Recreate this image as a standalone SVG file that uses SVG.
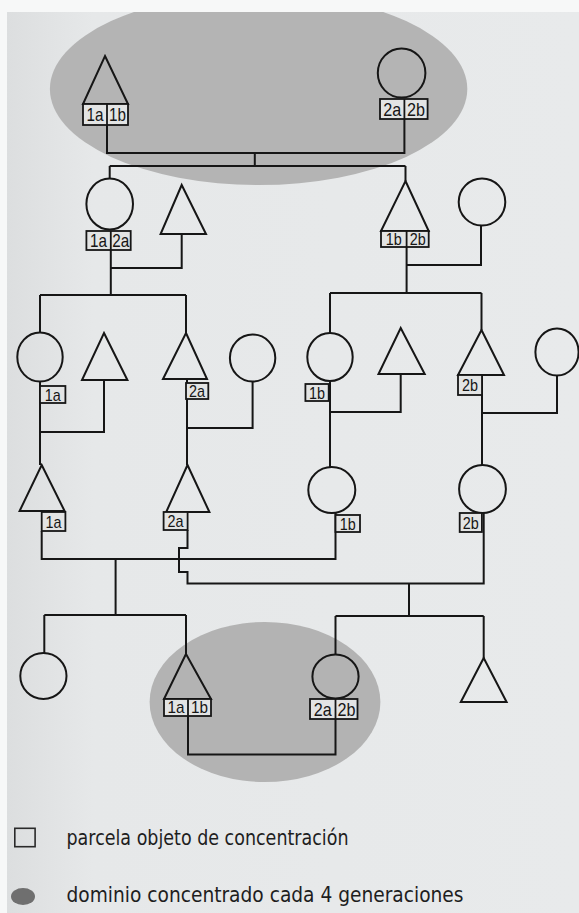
<svg xmlns="http://www.w3.org/2000/svg" width="579" height="913" viewBox="0 0 579 913">
<defs>
<clipPath id="page"><rect x="7" y="12" width="572" height="901"/></clipPath>
<linearGradient id="paper" x1="0" y1="0" x2="1" y2="0">
<stop offset="0" stop-color="#dcdedf"/>
<stop offset="0.15" stop-color="#e6e8e9"/>
<stop offset="1" stop-color="#e8eaeb"/>
</linearGradient>
</defs>
<style>
.sh{fill:none;stroke:#161616;stroke-width:2}
.bx{fill:#e3e4e4;stroke:#161616;stroke-width:1.8}
.dv{stroke:#161616;stroke-width:1.8}
.lb{font-family:"Liberation Sans",Arial,sans-serif;font-size:19px;fill:#161616;text-anchor:middle}
.ls{font-family:"Liberation Sans",Arial,sans-serif;font-size:17px;fill:#161616;text-anchor:middle}
.cn{fill:none;stroke:#161616;stroke-width:2}
.lg{font-family:"DejaVu Sans","Liberation Sans",sans-serif;font-size:21px;fill:#1e1e1e}
</style>
<rect x="0" y="0" width="579" height="913" fill="#f7f8f8"/>
<rect x="7" y="12" width="572" height="901" fill="url(#paper)"/>
<g id="domains" clip-path="url(#page)">
<ellipse cx="258.6" cy="89" rx="208.7" ry="96" fill="#b4b4b4"/>
<ellipse cx="265" cy="702" rx="115.4" ry="80" fill="#b3b3b3"/>
</g>
<g id="connectors">
<path class="cn" d="M107,125 V153 H404.4 V119"/>
<path class="cn" d="M254.8,153 V166"/>
<path class="cn" d="M109.7,166 H405.5"/>
<path class="cn" d="M109.7,166 V178"/>
<path class="cn" d="M405.5,166 V181"/>
<path class="cn" d="M181.7,234 V268 H110.8"/>
<path class="cn" d="M110.8,250 V295"/>
<path class="cn" d="M40,295 H186"/>
<path class="cn" d="M40,295 V332.5"/>
<path class="cn" d="M186,295 V333"/>
<path class="cn" d="M481,225.5 V265 H406.6"/>
<path class="cn" d="M406.6,247 V293"/>
<path class="cn" d="M330,293 H481.5"/>
<path class="cn" d="M330,293 V333"/>
<path class="cn" d="M481.5,293 V330"/>
<path class="cn" d="M40,381.5 V465"/>
<path class="cn" d="M104,380 V432 H40"/>
<path class="cn" d="M187,379 V465"/>
<path class="cn" d="M187,428 H252.6 V381.5"/>
<path class="cn" d="M330,381 V467"/>
<path class="cn" d="M400.7,374 V412 H330"/>
<path class="cn" d="M482,375 V465"/>
<path class="cn" d="M557,375.5 V413 H482"/>
<path class="cn" d="M41.7,531 V559 H335.5 V513"/>
<path class="cn" d="M187.5,530 V548 H179 V572 H187.5 V583.5 H483.7 V513"/>
<path class="cn" d="M115.6,559 V615"/>
<path class="cn" d="M44.3,615 H186"/>
<path class="cn" d="M44.3,615 V653"/>
<path class="cn" d="M186,615 V654"/>
<path class="cn" d="M409,583.5 V616"/>
<path class="cn" d="M335.5,616 H483.7"/>
<path class="cn" d="M335.5,616 V654.5"/>
<path class="cn" d="M483.7,616 V658"/>
<path class="cn" d="M188,716 V754.5 H335.5 V719"/>
</g>
<g id="g1-male">
<path class="sh" d="M105,56 L128,104 L83,104 Z"/>
<rect class="bx" x="83" y="104" width="45" height="21"/>
<line class="dv" x1="107" y1="104" x2="107" y2="125"/>
<text class="lb" x="95" y="121.3" textLength="17" lengthAdjust="spacingAndGlyphs">1a</text>
<text class="lb" x="117.5" y="121.3" textLength="17" lengthAdjust="spacingAndGlyphs">1b</text>
</g>
<g id="g1-female">
<ellipse class="sh" cx="401.6" cy="73" rx="23.8" ry="24.5"/>
<rect class="bx" x="380" y="99" width="47.6" height="20"/>
<line class="dv" x1="404.4" y1="99" x2="404.4" y2="119"/>
<text class="lb" x="392.2" y="115.8" textLength="18" lengthAdjust="spacingAndGlyphs">2a</text>
<text class="lb" x="416" y="115.8" textLength="18" lengthAdjust="spacingAndGlyphs">2b</text>
</g>
<g id="g2-daughter">
<ellipse class="sh" cx="109.7" cy="204" rx="23.3" ry="25.5"/>
<rect class="bx" x="86.4" y="231" width="44.3" height="19"/>
<line class="dv" x1="110.8" y1="231" x2="110.8" y2="250"/>
<text class="lb" x="98.6" y="247.3" textLength="17" lengthAdjust="spacingAndGlyphs">1a</text>
<text class="lb" x="120.7" y="247.3" textLength="17" lengthAdjust="spacingAndGlyphs">2a</text>
</g>
<g id="g2-daughter-husband">
<path class="sh" d="M181.7,185 L206,234 L160.6,234 Z"/>
</g>
<g id="g2-son">
<path class="sh" d="M405.5,181 L428.7,231 L381,231 Z"/>
<rect class="bx" x="381" y="231" width="47.7" height="16"/>
<line class="dv" x1="406.6" y1="231" x2="406.6" y2="247"/>
<text class="ls" x="393.8" y="245.3" textLength="16" lengthAdjust="spacingAndGlyphs">1b</text>
<text class="ls" x="417.7" y="245.3" textLength="16" lengthAdjust="spacingAndGlyphs">2b</text>
</g>
<g id="g2-son-wife">
<ellipse class="sh" cx="482" cy="202" rx="23.3" ry="23.5"/>
</g>
<g id="g3-a">
<ellipse class="sh" cx="40" cy="357" rx="22.7" ry="24.5"/>
<rect class="bx" x="40" y="386" width="25.4" height="17"/>
<text class="ls" x="52.7" y="400.6" textLength="16" lengthAdjust="spacingAndGlyphs">1a</text>
</g>
<g id="g3-a-husband">
<path class="sh" d="M104,333 L127.4,380 L82,380 Z"/>
</g>
<g id="g3-b">
<path class="sh" d="M186,333 L207,379 L163,379 Z"/>
<rect class="bx" x="186" y="383" width="22.3" height="16"/>
<text class="ls" x="197.1" y="397.1" textLength="16" lengthAdjust="spacingAndGlyphs">2a</text>
</g>
<g id="g3-b-wife">
<ellipse class="sh" cx="252.6" cy="358" rx="22.7" ry="23.5"/>
</g>
<g id="g3-c">
<ellipse class="sh" cx="330" cy="357" rx="22.7" ry="24"/>
<rect class="bx" x="305.4" y="384" width="23.3" height="17"/>
<text class="ls" x="317" y="398.6" textLength="16" lengthAdjust="spacingAndGlyphs">1b</text>
</g>
<g id="g3-c-husband">
<path class="sh" d="M400.7,328 L424.7,374 L378.5,374 Z"/>
</g>
<g id="g3-d">
<path class="sh" d="M481.5,330 L504,375 L458,375 Z"/>
<rect class="bx" x="458" y="375" width="24" height="20"/>
<text class="ls" x="470" y="391" textLength="16" lengthAdjust="spacingAndGlyphs">2b</text>
</g>
<g id="g3-d-wife">
<ellipse class="sh" cx="557" cy="352" rx="21.6" ry="23.5"/>
</g>
<g id="g4-a">
<path class="sh" d="M41.7,465 L64.6,511 L19.6,511 Z"/>
<rect class="bx" x="41.7" y="512" width="23.7" height="19"/>
<text class="ls" x="53.5" y="527.6" textLength="16" lengthAdjust="spacingAndGlyphs">1a</text>
</g>
<g id="g4-b">
<path class="sh" d="M187.5,465 L209.4,512 L166.2,512 Z"/>
<rect class="bx" x="163.6" y="512" width="24" height="18"/>
<text class="ls" x="175.6" y="527.1" textLength="16" lengthAdjust="spacingAndGlyphs">2a</text>
</g>
<g id="g4-c">
<ellipse class="sh" cx="331.8" cy="490" rx="23.5" ry="23"/>
<rect class="bx" x="335.5" y="515" width="24.5" height="17"/>
<text class="ls" x="347.8" y="529.6" textLength="16" lengthAdjust="spacingAndGlyphs">1b</text>
</g>
<g id="g4-d">
<ellipse class="sh" cx="482.5" cy="489" rx="23.4" ry="24"/>
<rect class="bx" x="459.7" y="513" width="22.2" height="19"/>
<text class="ls" x="470.8" y="528.6" textLength="16" lengthAdjust="spacingAndGlyphs">2b</text>
</g>
<g id="g5-a">
<ellipse class="sh" cx="43.4" cy="676" rx="23.1" ry="23"/>
</g>
<g id="g5-b">
<path class="sh" d="M186,654 L211,699 L164,699 Z"/>
<rect class="bx" x="164" y="699" width="47" height="17"/>
<line class="dv" x1="188" y1="699" x2="188" y2="716"/>
<text class="ls" x="176" y="713.4" textLength="17" lengthAdjust="spacingAndGlyphs">1a</text>
<text class="ls" x="199.5" y="713.4" textLength="17" lengthAdjust="spacingAndGlyphs">1b</text>
</g>
<g id="g5-c">
<ellipse class="sh" cx="335.5" cy="676.5" rx="23.1" ry="22"/>
<rect class="bx" x="310" y="699" width="47.5" height="20"/>
<line class="dv" x1="335.5" y1="699" x2="335.5" y2="719"/>
<text class="lb" x="322.7" y="715.6" textLength="18" lengthAdjust="spacingAndGlyphs">2a</text>
<text class="lb" x="346.6" y="715.6" textLength="18" lengthAdjust="spacingAndGlyphs">2b</text>
</g>
<g id="g5-d">
<path class="sh" d="M483.7,658 L506.6,702 L460.8,702 Z"/>
</g>
<g id="legend">
<rect x="14.8" y="828.3" width="20.3" height="18.4" fill="none" stroke="#2a2a2a" stroke-width="1.6"/>
<text class="lg" x="66.5" y="845" textLength="282" lengthAdjust="spacingAndGlyphs">parcela objeto de concentración</text>
<ellipse cx="23" cy="896.5" rx="12" ry="8.5" fill="#6f6f6f"/>
<text class="lg" x="66.5" y="902" textLength="397" lengthAdjust="spacingAndGlyphs">dominio concentrado cada 4 generaciones</text>
</g>
</svg>
